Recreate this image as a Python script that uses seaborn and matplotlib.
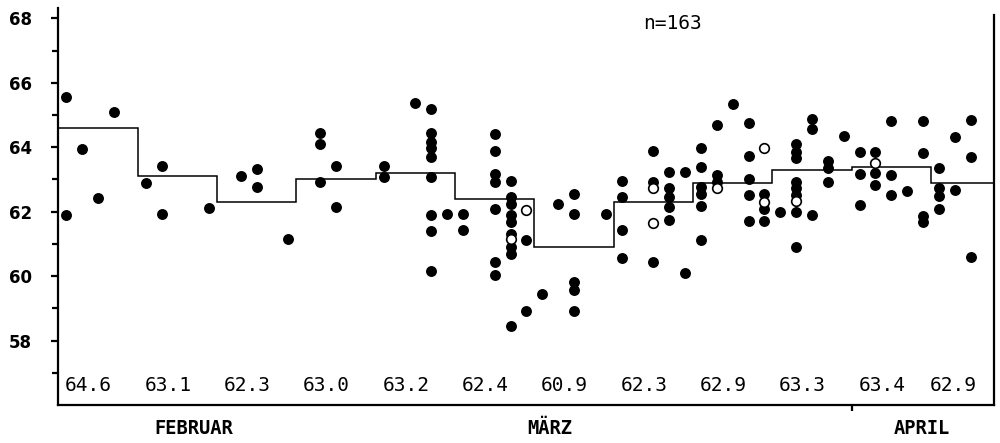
import numpy as np
import pandas as pd
import matplotlib
matplotlib.use('Agg')
import matplotlib.pyplot as plt
import seaborn as sns

# day index (0 = first day on the axis) and value of every filled point
filled_day = [
    0, 0, 1, 2, 3, 5, 6, 6, 9, 11, 12, 12, 14,
    16, 16, 16, 17, 17, 20, 20, 22,
    23, 23, 23, 23, 23, 23, 23, 23, 23,
    24, 25, 25,
    27, 27, 27, 27, 27, 27, 27,
    28, 28, 28, 28, 28, 28, 28, 28, 28,
    29, 29, 30, 31,
    32, 32, 32, 32, 32,
    34, 35, 35, 35, 35,
    37, 37, 37,
    38, 38, 38, 38, 38,
    39, 39,
    40, 40, 40, 40, 40, 40,
    41, 41, 41, 42,
    43, 43, 43, 43, 43,
    44, 44, 44, 45,
    46, 46, 46, 46, 46, 46, 46, 46,
    47, 47, 47,
    48, 48, 48, 49,
    50, 50, 50,
    51, 51, 51,
    52, 52, 52, 53,
    54, 54, 54, 54,
    55, 55, 55, 55,
    56, 56,
    57, 57, 57,
]
filled_value = [
    65.56, 61.91, 63.94, 62.42, 65.10, 62.90, 63.41, 61.92, 62.12, 63.12, 63.31, 62.77, 61.16,
    64.44, 64.11, 62.92, 63.41, 62.14, 63.41, 63.06, 65.38,
    65.17, 64.44, 64.16, 63.96, 63.70, 63.06, 61.91, 61.40, 60.15,
    61.94, 61.94, 61.44,
    64.40, 63.88, 63.18, 62.92, 62.09, 60.43, 60.04,
    62.95, 62.45, 62.23, 61.89, 61.68, 61.30, 60.90, 60.67, 58.45,
    61.13, 58.93, 59.43, 62.23,
    62.56, 61.94, 59.83, 59.58, 58.93,
    61.94, 62.94, 62.44, 61.42, 60.57,
    63.88, 62.92, 60.43,
    63.23, 62.72, 62.45, 62.14, 61.75,
    63.23, 60.09,
    63.99, 63.39, 62.75, 62.54, 62.17, 61.13,
    64.68, 63.15, 62.92, 65.34,
    64.75, 63.73, 63.00, 62.51, 61.71,
    62.56, 62.09, 61.71, 61.99,
    64.09, 63.85, 63.65, 62.92, 62.72, 62.51, 61.99, 60.90,
    64.86, 64.55, 61.89,
    63.57, 63.34, 62.92, 64.34,
    63.85, 63.18, 62.20,
    63.85, 63.20, 62.82,
    64.82, 63.13, 62.51, 62.64,
    64.82, 63.83, 61.85, 61.68,
    63.34, 62.72, 62.48, 62.09,
    64.32, 62.68,
    64.84, 63.70, 60.59,
]

# open circles
open_day = [28, 29, 37, 37, 41, 44, 44, 46, 51]
open_value = [61.16, 62.06, 62.72, 61.66, 62.72, 63.96, 62.30, 62.33, 63.51]

# 5-day period means
period_mean = [64.6, 63.1, 62.3, 63.0, 63.2, 62.4, 60.9, 62.3, 62.9, 63.3, 63.4, 62.9]
period_len = 5
n_days = 59

months = ['FEBRUAR', 'MÄRZ', 'APRIL']
month_label_day = [8.55, 31.0, 54.45]
april_start = 50
n_total = 163

assert len(filled_day) == len(filled_value)

filled = pd.DataFrame({'day': np.array(filled_day) + 0.5, 'value': filled_value})
opened = pd.DataFrame({'day': np.array(open_day) + 0.5, 'value': open_value})

sns.set_style('ticks')
plt.rcParams.update({'text.color': 'black', 'xtick.color': 'black', 'ytick.color': 'black',
                     'axes.edgecolor': 'black'})
fig = plt.figure(figsize=(10, 4.43), dpi=100)
ax = fig.add_axes([0.0584, 0.0858, 0.936, 0.8962])

sns.scatterplot(data=filled, x='day', y='value', ax=ax, color='black',
                s=62, edgecolor='black', linewidth=0, zorder=3)
sns.scatterplot(data=opened, x='day', y='value', ax=ax, facecolor='white',
                s=48, edgecolor='black', linewidth=1.2, zorder=4)

edges = np.arange(0, len(period_mean) * period_len + 1, period_len)
ax.stairs(period_mean, edges, baseline=None, color='black', linewidth=1.1, zorder=2)

# period means written along the bottom
for i, m in enumerate(period_mean):
    lo, hi = edges[i], min(edges[i + 1], n_days)
    ax.text((lo + hi) / 2 - 0.6, 56.6, f'{m:.1f}', ha='center', va='center',
            family='DejaVu Sans Mono', fontsize=14)

ax.text(38.7, 67.85, f'n={n_total}', ha='center', va='center',
        family='DejaVu Sans Mono', fontsize=14)

ax.set_xlim(0, n_days)
ax.set_ylim(56, 68.32)
ax.set_yticks(np.arange(58, 69, 2))
ax.set_yticks(np.arange(57, 68, 2), minor=True)
ax.tick_params(axis='y', which='major', length=5, width=1.6, pad=14, labelsize=12)
ax.tick_params(axis='y', which='minor', length=4, width=1.6)
for lab in ax.get_yticklabels():
    lab.set_fontweight('bold')

ax.set_xticks(month_label_day)
ax.set_xticklabels(months, family='DejaVu Sans Mono', fontweight='bold', fontsize=13.5)
ax.set_xticks([april_start], minor=True)
ax.tick_params(axis='x', which='major', length=0, pad=10)
ax.tick_params(axis='x', which='minor', length=4, width=1.6, direction='out')

ax.set_xlabel('')
ax.set_ylabel('')
sns.despine(ax=ax, top=True, right=False)
for side in ['left', 'bottom', 'right']:
    ax.spines[side].set_linewidth(1.6)
ax.spines['right'].set_bounds(56, 68.1)

fig.savefig('out.png', dpi=100)
